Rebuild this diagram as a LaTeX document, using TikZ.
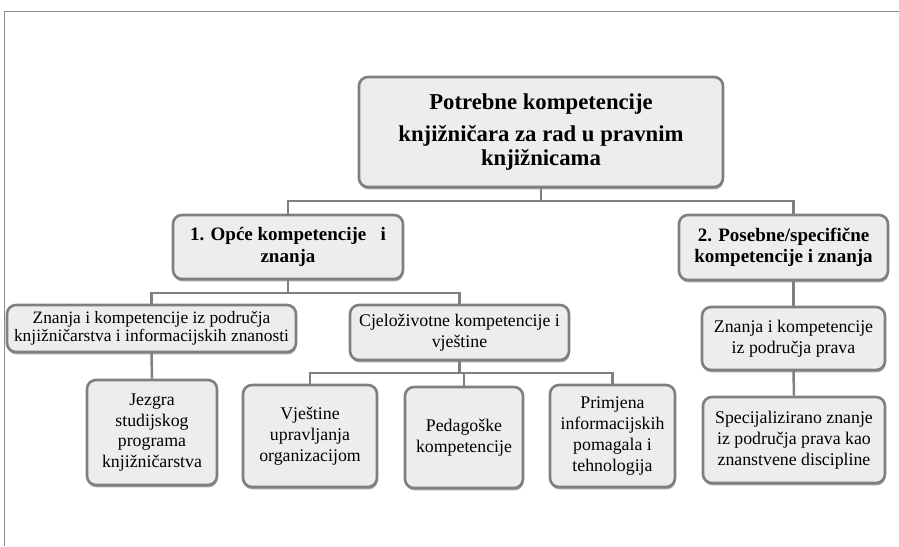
\documentclass[tikz,border=0pt]{standalone}
\usepackage{fontspec}
\setmainfont{Liberation Serif}
\usetikzlibrary{shadows}
\definecolor{bordergray}{HTML}{7F7F7F}
\definecolor{boxfill}{HTML}{EDEDED}
\definecolor{linegray}{HTML}{808080}
\definecolor{framegray}{HTML}{8C8C8C}
\tikzset{
  box/.style={draw=bordergray, line width=2.6pt, fill=boxfill, rounded corners=9pt,
    align=center, inner sep=2pt,
    drop shadow={shadow xshift=0.6pt, shadow yshift=-2.4pt, fill=black, opacity=0.35}},
  rootfont/.style={font={\fontsize{22.7}{24}\selectfont\bfseries}},
  boldfont/.style={font={\fontsize{19}{21.5}\selectfont\bfseries}},
  regfont/.style={font={\fontsize{17.8}{20.8}\selectfont}},
  tightfont/.style={font={\fontsize{17.4}{18.3}\selectfont}},
  conn/.style={draw=linegray, line width=2.5pt},
  framerule/.style={draw=framegray, line width=1pt}
}
\begin{document}
\begin{tikzpicture}[x=1pt,y=-1pt]
\useasboundingbox (0,0) rectangle (899,546);
\draw[framerule] (4.5,546) -- (4.5,11.5) -- (899,11.5);

% nodes
\node[box, rootfont, minimum width=364pt, minimum height=110pt] (root) at (541,132)
  {Potrebne kompetencije\\[8pt]knjižničara za rad u pravnim\\knjižnicama};
\node[box, boldfont, minimum width=230pt, minimum height=64pt] (b1) at (288,247)
  {1. Opće kompetencije\ \ \ i\\znanja};
\node[box, boldfont, minimum width=209pt, minimum height=65pt] (b2) at (783.5,247.5)
  {2. Posebne/specifične\\kompetencije i znanja};
\node[box, tightfont, minimum width=289pt, minimum height=47pt] (zk) at (151.5,328.5)
  {Znanja i kompetencije iz područja\\knjižničarstva i informacijskih znanosti};
\node[box, regfont, minimum width=219pt, minimum height=55pt] (cj) at (459.5,332.5)
  {Cjeloživotne kompetencije i\\vještine};
\node[box, regfont, minimum width=183pt, minimum height=63pt] (zp) at (793.5,338.5)
  {Znanja i kompetencije\\iz područja prava};
\node[box, regfont, minimum width=130pt, minimum height=105pt] (jz) at (152,432.5)
  {Jezgra\\studijskog\\programa\\knjižničarstva};
\node[box, regfont, minimum width=134pt, minimum height=102pt] (vj) at (310,436)
  {Vještine\\upravljanja\\organizacijom};
\node[box, regfont, minimum width=118pt, minimum height=101pt] (pd) at (464,437.5)
  {Pedagoške\\kompetencije};
\node[box, regfont, minimum width=125pt, minimum height=102pt] (pr) at (612.5,436)
  {Primjena\\informacijskih\\pomagala i\\tehnologija};
\node[box, regfont, minimum width=182pt, minimum height=86pt] (sp) at (794,440)
  {Specijalizirano znanje\\iz područja prava kao\\znanstvene discipline};

% junction points
\coordinate (j1) at (541,201);
\coordinate (j2) at (288,293);
\coordinate (j3) at (459.5,373);

% connectors
\draw[conn] (root.south) -- (j1);
\draw[conn] (b1.north) |- (j1);
\draw[conn] (j1) -| (zp.north |- b2.north);
\draw[conn] (b1.south) -- (j2);
\draw[conn] (zk.north) |- (j2);
\draw[conn] (j2) -| (cj.north);
\draw[conn] (zk.south) -- (jz.north);
\draw[conn] (cj.south) -- (j3);
\draw[conn] (vj.north) |- (j3);
\draw[conn] (j3) -| (pr.north);
\draw[conn] (pd.north) -- (pd.north |- j3);
\draw[conn] (zp.north |- b2.south) -- (zp.north);
\draw[conn] (zp.south) -- (sp.north);
\end{tikzpicture}
\end{document}
